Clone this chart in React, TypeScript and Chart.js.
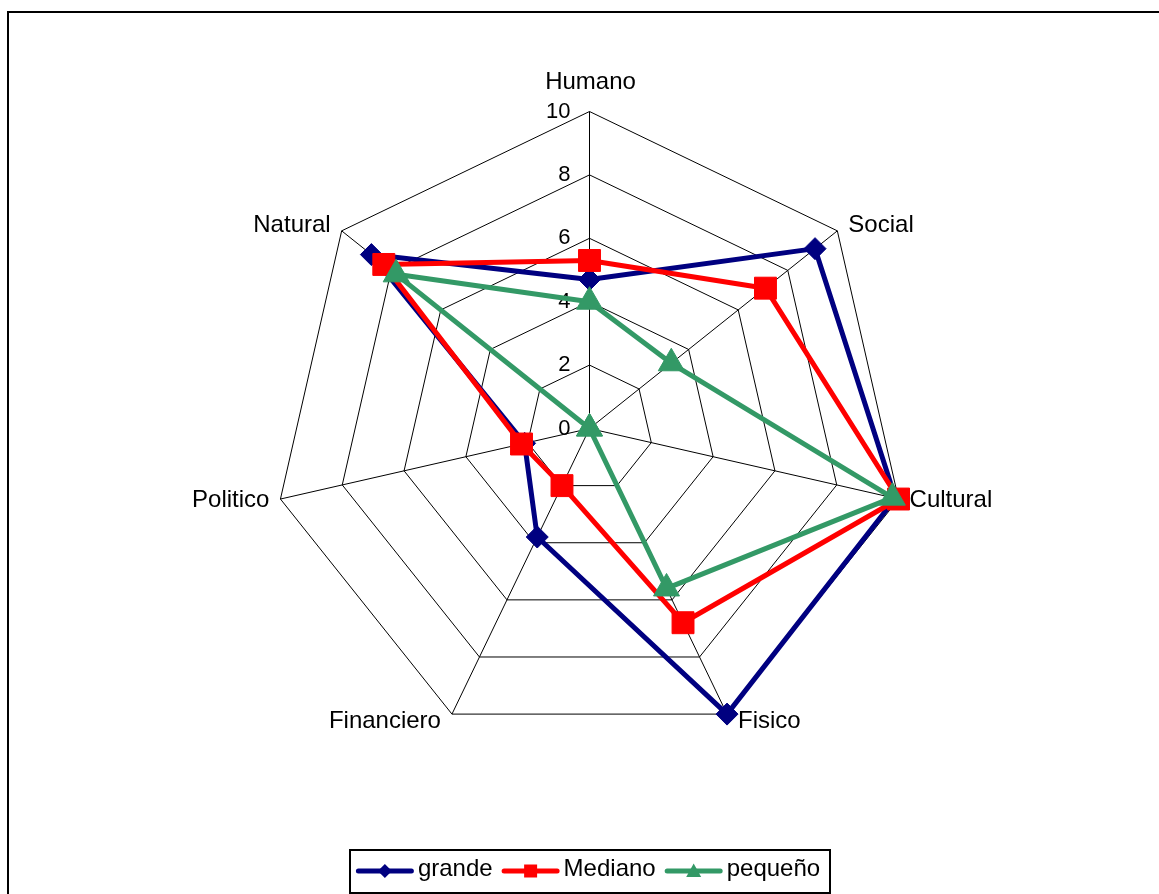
import React, { useEffect, useRef } from 'react';
import { Chart, registerables } from 'chart.js';

Chart.register(...registerables);

// ---- data ----
const categories = ['Humano', 'Social', 'Cultural', 'Fisico', 'Financiero', 'Politico', 'Natural'];
const grande = [4.7, 9.1, 9.9, 10, 3.8, 2.1, 8.8];
const mediano = [5.3, 7.1, 10, 6.8, 2.0, 2.2, 8.3];
const pequeno = [4.0, 3.3, 9.8, 5.6, 0, 0, 7.8];
const seriesNames = ['grande', 'Mediano', 'pequeño'];
const tickValues = [0, 2, 4, 6, 8, 10];

// ---- styling ----
const W = 1159;
const H = 894;
const FONT = '"Liberation Sans", Arial, sans-serif';
const COLORS = ['#000080', '#FF0000', '#339966'];
const STYLES = ['rectRot', 'rect', 'triangle'];
const RADII = [11, 15.5, 15];

function drawLegendMarker(ctx: CanvasRenderingContext2D, kind: number, x: number, y: number) {
  ctx.beginPath();
  if (kind === 0) {
    const r = 7;
    ctx.moveTo(x - r, y);
    ctx.lineTo(x, y - r);
    ctx.lineTo(x + r, y);
    ctx.lineTo(x, y + r);
  } else if (kind === 1) {
    const s = 6.5;
    ctx.rect(x - s, y - s, 2 * s, 2 * s);
  } else {
    ctx.moveTo(x, y - 7.5);
    ctx.lineTo(x + 7.5, y + 6);
    ctx.lineTo(x - 7.5, y + 6);
  }
  ctx.closePath();
  ctx.fill();
}

const decorPlugin = {
  id: 'decor',
  beforeDraw(chart: any) {
    const ctx: CanvasRenderingContext2D = chart.ctx;
    ctx.save();
    ctx.fillStyle = '#ffffff';
    ctx.fillRect(0, 0, W, H);
    ctx.strokeStyle = '#000';
    ctx.lineWidth = 2;
    ctx.beginPath();
    ctx.moveTo(8, H);
    ctx.lineTo(8, 12);
    ctx.lineTo(W, 12);
    ctx.stroke();
    ctx.restore();
    // half-pixel shift for crisper grid lines
    ctx.save();
    ctx.translate(0.5, 0.5);
  },
  beforeDatasetsDraw(chart: any) {
    const ctx: CanvasRenderingContext2D = chart.ctx;
    const scale = chart.scales.r;
    const R = scale.drawingArea;
    ctx.save();
    ctx.fillStyle = '#000';
    ctx.font = `24px ${FONT}`;
    // point labels
    categories.forEach((lab, i) => {
      const v = scale.getPointPosition(i, R);
      const ux = (v.x - scale.xCenter) / R;
      const uy = (v.y - scale.yCenter) / R;
      if (Math.abs(ux) < 0.05) {
        ctx.textAlign = 'center';
        ctx.textBaseline = 'alphabetic';
        ctx.fillText(lab, v.x + 1, v.y - 23);
      } else {
        ctx.textAlign = ux > 0 ? 'left' : 'right';
        ctx.textBaseline = 'middle';
        ctx.fillText(lab, v.x + (ux > 0 ? 11 : -11), v.y + uy * 8);
      }
    });
    // tick labels
    ctx.font = `22px ${FONT}`;
    ctx.textAlign = 'right';
    ctx.textBaseline = 'middle';
    tickValues.forEach((t) => {
      const d = scale.getDistanceFromCenterForValue(t);
      ctx.fillText(String(t), scale.xCenter - 19, scale.yCenter - d);
    });
    ctx.restore();
  },
  afterDraw(chart: any) {
    const ctx: CanvasRenderingContext2D = chart.ctx;
    ctx.restore();
    ctx.save();
    ctx.font = `24px ${FONT}`;
    const LINE = 58;
    const GAP1 = 4;
    const GAP2 = 9;
    const widths = seriesNames.map((n) => ctx.measureText(n).width);
    const total = widths.reduce((s, w) => s + LINE + GAP1 + w, 0) + GAP2 * (seriesNames.length - 1);
    let x = 588 - total / 2;
    const boxL = Math.round(x - 6);
    const boxR = Math.round(x + total + 10);
    ctx.strokeStyle = '#000';
    ctx.lineWidth = 2;
    ctx.strokeRect(boxL, 850, boxR - boxL, 43);
    const yLine = 871;
    seriesNames.forEach((n, i) => {
      ctx.strokeStyle = COLORS[i];
      ctx.fillStyle = COLORS[i];
      ctx.lineWidth = 5;
      ctx.lineCap = 'round';
      ctx.beginPath();
      ctx.moveTo(x + 2.5, yLine);
      ctx.lineTo(x + LINE - 2.5, yLine);
      ctx.stroke();
      drawLegendMarker(ctx, i, x + LINE / 2, yLine);
      ctx.fillStyle = '#000';
      ctx.textAlign = 'left';
      ctx.textBaseline = 'middle';
      ctx.fillText(n, x + LINE + GAP1, 869);
      x += LINE + GAP1 + widths[i] + GAP2;
    });
    ctx.restore();
  },
};

export default function App() {
  const ref = useRef<HTMLCanvasElement | null>(null);
  useEffect(() => {
    if (!ref.current) return;
    const values = [grande, mediano, pequeno];
    const chart = new Chart(ref.current, {
      type: 'radar',
      data: {
        labels: categories,
        datasets: seriesNames.map((name, i) => ({
          label: name,
          data: values[i],
          borderColor: COLORS[i],
          backgroundColor: COLORS[i],
          borderWidth: 5,
          borderJoinStyle: 'round',
          fill: false,
          pointStyle: STYLES[i],
          pointRadius: RADII[i],
          pointHoverRadius: RADII[i],
          pointBackgroundColor: COLORS[i],
          pointBorderColor: COLORS[i],
          pointBorderWidth: 1,
          order: 3 - i,
          clip: false,
        })) as any,
      },
      options: {
        responsive: false,
        animation: false,
        devicePixelRatio: 1,
        events: [],
        layout: { padding: { left: 272, right: 252, top: 111, bottom: 148 } },
        plugins: { legend: { display: false }, tooltip: { enabled: false } },
        elements: { line: { tension: 0 } },
        scales: {
          r: {
            min: 0,
            max: 10,
            beginAtZero: true,
            ticks: { stepSize: 2, display: false },
            grid: { color: '#000', lineWidth: 1 },
            angleLines: { color: '#000', lineWidth: 1 },
            pointLabels: { display: false },
          },
        },
      } as any,
      plugins: [decorPlugin],
    });
    return () => chart.destroy();
  }, []);
  return (
    <div style={{ position: 'fixed', left: 0, top: 0, width: W, height: H }}>
      <canvas ref={ref} width={W} height={H} style={{ display: 'block', width: W, height: H }} />
    </div>
  );
}
